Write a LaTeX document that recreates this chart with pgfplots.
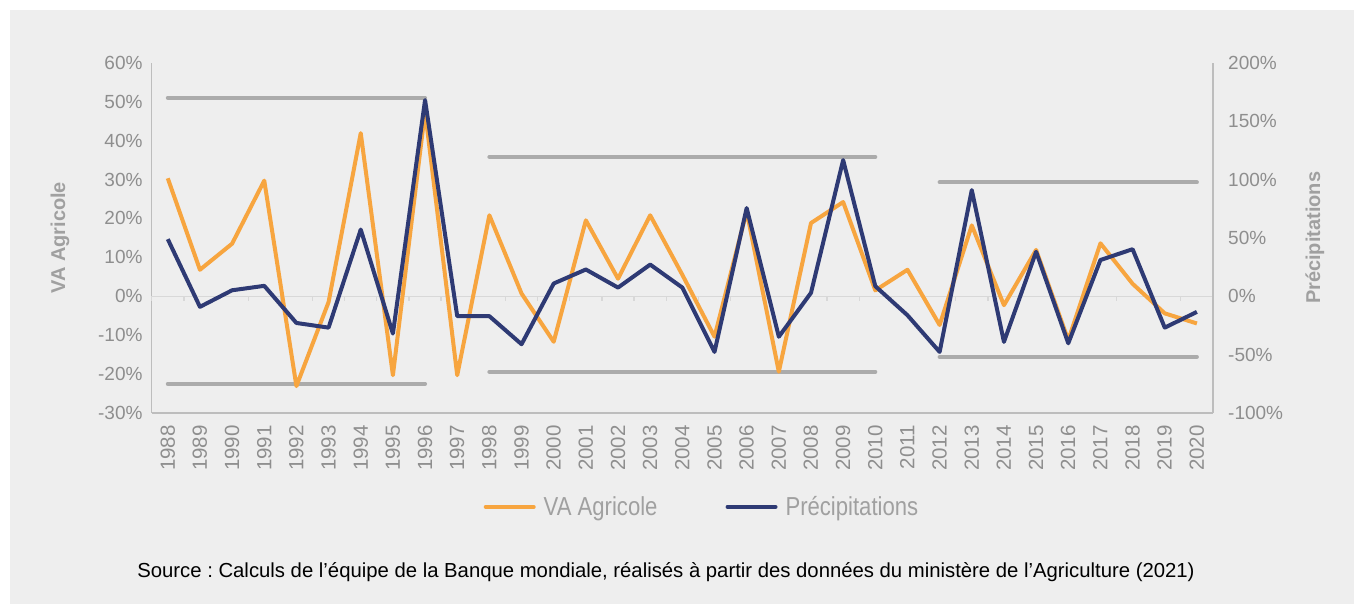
\documentclass[border=0pt]{standalone}
\usepackage{pgfplots}
\pgfplotsset{compat=1.18}
\usepackage{fontspec}
\setmainfont{Liberation Sans}
\newfontfamily\condfont[FakeStretch=0.85]{Liberation Sans}
\definecolor{bg}{HTML}{EEEEEE}
\definecolor{vaorange}{HTML}{F7A53F}
\definecolor{prnavy}{HTML}{2E3A74}
\definecolor{tickgray}{HTML}{8E8E8E}
\definecolor{titlegray}{HTML}{A0A0A0}
\definecolor{axgray}{HTML}{BDBDBD}
\definecolor{zerogray}{HTML}{D8D8D8}
\definecolor{bandgray}{HTML}{ABABAB}

\pgfplotstableread{
year va
1988 30.3
1989 6.8
1990 13.5
1991 29.7
1992 -23.1
1993 -1.5
1994 41.9
1995 -20.3
1996 47.5
1997 -20.3
1998 20.8
1999 0.7
2000 -11.7
2001 19.5
2002 4.5
2003 20.8
2004 5.5
2005 -10.4
2006 21.8
2007 -19.4
2008 18.8
2009 24.2
2010 1.5
2011 6.8
2012 -7.4
2013 18.2
2014 -2.3
2015 11.9
2016 -11.3
2017 13.6
2018 3.2
2019 -4.4
2020 -7.0
}\vatable

\pgfplotstableread{
year pr
1988 48.9
1989 -9.1
1990 5.1
1991 8.9
1992 -22.9
1993 -26.9
1994 57.1
1995 -32.0
1996 168.0
1997 -17.1
1998 -17.1
1999 -41.1
2000 10.9
2001 22.9
2002 7.4
2003 27.1
2004 7.4
2005 -47.7
2006 75.5
2007 -34.7
2008 2.9
2009 116.6
2010 8.6
2011 -16.3
2012 -47.7
2013 90.9
2014 -39.1
2015 38.1
2016 -40.3
2017 31.0
2018 40.3
2019 -26.9
2020 -13.4
}\prtable

\begin{document}
\frenchspacing
\begin{tikzpicture}[x=1pt,y=1pt]
\fill[white] (0,0) rectangle (1354,604);
\fill[bg] (10,0) rectangle (1354,594);

\begin{axis}[
  at={(151.7pt,191pt)}, anchor=south west,
  scale only axis, width=1061.3pt, height=350.3pt,
  xmin=1987.5, xmax=2020.5, ymin=-30, ymax=60,
  axis x line*=bottom, axis y line*=left,
  axis line style={axgray, line width=1.3pt},
  xtick={1988,...,2020},
  xticklabel={\pgfmathparse{int(round(\tick))}\pgfmathresult},
  xticklabel style={rotate=90, anchor=east, inner sep=0pt, text=tickgray,
    font=\fontsize{20.5}{22}\selectfont},
  xticklabel shift=12pt,
  ytick={-30,-20,...,60},
  yticklabels={{-30\%},{-20\%},{-10\%},{0\%},{10\%},{20\%},{30\%},{40\%},{50\%},{60\%}},
  yticklabel style={anchor=east, inner sep=0pt, text=tickgray,
    font=\fontsize{19}{21}\selectfont},
  yticklabel shift=9pt,
  xtick style={draw=none}, ytick style={draw=none},
  extra y ticks={0}, extra y tick labels={},
  extra y tick style={grid=major, major grid style={zerogray, line width=1.3pt}},
  ylabel={VA Agricole},
  every axis y label/.style={at={(axis description cs:-0.0864,0.5)}, rotate=90, anchor=center,
    font=\bfseries\fontsize{20}{22}\selectfont, text=titlegray},
  clip=false,
]
\pgfplotsinvokeforeach{1987,...,2020}{
  \draw[zerogray, line width=1.3pt] (axis cs:#1.5,0) -- ([yshift=-4.5pt]axis cs:#1.5,0);
}
\addplot[bandgray, line width=4pt, line cap=round] coordinates {(1988,51.0) (1996,51.0)};
\addplot[bandgray, line width=4pt, line cap=round] coordinates {(1988,-22.5) (1996,-22.5)};
\addplot[bandgray, line width=4pt, line cap=round] coordinates {(1998,35.8) (2010,35.8)};
\addplot[bandgray, line width=4pt, line cap=round] coordinates {(1998,-19.4) (2010,-19.4)};
\addplot[bandgray, line width=4pt, line cap=round] coordinates {(2012,29.3) (2020,29.3)};
\addplot[bandgray, line width=4pt, line cap=round] coordinates {(2012,-15.6) (2020,-15.6)};
\addplot[vaorange, line width=4pt, line join=round] table[x=year, y=va] {\vatable};
\end{axis}

\begin{axis}[
  at={(151.7pt,191pt)}, anchor=south west,
  scale only axis, width=1061.3pt, height=350.3pt,
  xmin=1987.5, xmax=2020.5, ymin=-100, ymax=200,
  axis x line=none, axis y line*=right,
  axis line style={axgray, line width=1.3pt},
  ytick={-100,-50,...,200},
  yticklabels={{-100\%},{-50\%},{0\%},{50\%},{100\%},{150\%},{200\%}},
  yticklabel style={anchor=west, inner sep=0pt, text=tickgray,
    font=\fontsize{19}{21}\selectfont},
  yticklabel shift=15pt,
  ytick style={draw=none},
  ylabel={Précipitations},
  every axis y label/.style={at={(axis description cs:1.0961,0.5)}, rotate=90, anchor=center,
    font=\bfseries\fontsize{20}{22}\selectfont, text=titlegray},
  legend columns=2,
  legend style={at={(axis description cs:0.5185,-0.268)}, anchor=center,
    draw=none, fill=none, font=\condfont\fontsize{26}{28}\selectfont, text=titlegray,
    /tikz/every odd column/.append style={column sep=6pt},
    /tikz/every even column/.append style={column sep=66pt},
    cells={anchor=west}},
  legend image code/.code={\draw[#1, line cap=round] (0pt,0pt) -- (48pt,0pt);},
  clip=false,
]
\addlegendimage{vaorange, line width=4pt}
\addlegendentry{VA Agricole}
\addplot[prnavy, line width=4pt, line join=round] table[x=year, y=pr] {\prtable};
\addlegendentry{Précipitations}
\end{axis}

\node[font=\fontsize{20.3}{23}\selectfont, text=black] at (666,32)
  {Source : Calculs de l’équipe de la Banque mondiale, réalisés à partir des données du ministère de l’Agriculture (2021)};
\end{tikzpicture}
\end{document}
